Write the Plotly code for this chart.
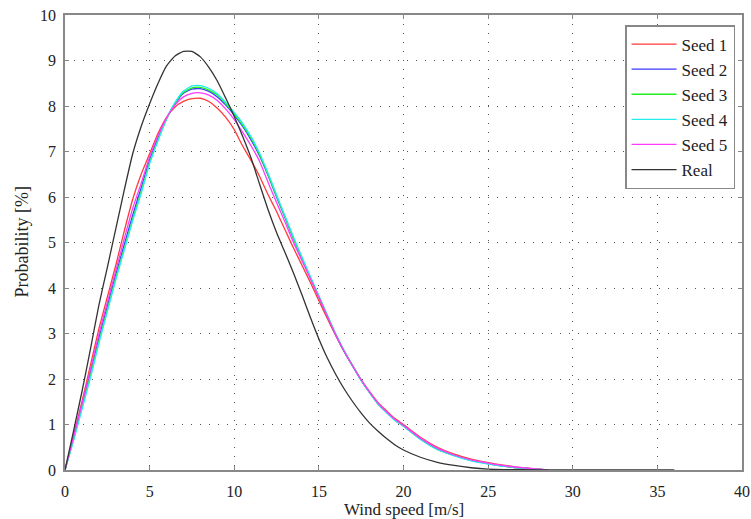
import plotly.graph_objects as go

# wind speed sample points [m/s]
seed_x = [0, 0.5, 1, 1.5, 2, 2.5, 3, 3.5, 4, 4.5, 5, 5.5, 6, 6.5, 7, 7.5, 8, 8.5, 9, 9.5,
          10, 10.5, 11, 11.5, 12, 12.5, 13, 13.5, 14, 14.5, 15, 15.5, 16, 16.5, 17, 17.5,
          18, 18.5, 19, 19.5, 20, 21, 22, 23, 24, 25, 26, 27, 28, 28.5]

seed1 = [0, 0.75, 1.5, 2.3, 3.1, 3.8, 4.5, 5.25, 5.95, 6.5, 6.95, 7.4, 7.75, 7.98, 8.1, 8.16, 8.17, 8.1, 7.95, 7.75,
         7.48, 7.12, 6.8, 6.45, 6.05, 5.68, 5.28, 4.88, 4.5, 4.12, 3.72, 3.33, 2.95, 2.6, 2.28, 1.98,
         1.72, 1.48, 1.3, 1.13, 1.0, 0.72, 0.5, 0.35, 0.24, 0.16, 0.1, 0.05, 0.02, 0]
seed2 = [0, 0.7, 1.42, 2.15, 2.9, 3.6, 4.3, 4.95, 5.6, 6.2, 6.82, 7.3, 7.72, 8.05, 8.28, 8.37, 8.38, 8.32, 8.2, 8.02,
         7.8, 7.55, 7.25, 6.9, 6.47, 6.0, 5.55, 5.08, 4.65, 4.22, 3.8, 3.38, 2.97, 2.6, 2.28, 1.97,
         1.7, 1.45, 1.27, 1.1, 0.97, 0.68, 0.46, 0.32, 0.21, 0.14, 0.08, 0.04, 0.015, 0]
seed3 = [0, 0.66, 1.36, 2.07, 2.82, 3.52, 4.22, 4.87, 5.52, 6.12, 6.76, 7.26, 7.71, 8.06, 8.3, 8.4, 8.41, 8.35, 8.24, 8.05,
         7.83, 7.58, 7.29, 6.93, 6.49, 6.02, 5.56, 5.09, 4.66, 4.23, 3.81, 3.39, 2.98, 2.61, 2.29, 1.97,
         1.7, 1.45, 1.27, 1.1, 0.97, 0.68, 0.45, 0.32, 0.21, 0.14, 0.08, 0.04, 0.015, 0]
seed4 = [0, 0.64, 1.33, 2.02, 2.78, 3.48, 4.18, 4.83, 5.48, 6.08, 6.73, 7.24, 7.72, 8.08, 8.33, 8.44, 8.45, 8.39, 8.27, 8.08,
         7.86, 7.62, 7.32, 6.96, 6.52, 6.05, 5.58, 5.12, 4.68, 4.25, 3.83, 3.4, 2.99, 2.62, 2.29, 1.97,
         1.7, 1.45, 1.26, 1.09, 0.96, 0.67, 0.45, 0.31, 0.2, 0.13, 0.08, 0.04, 0.015, 0]
seed5 = [0, 0.72, 1.45, 2.2, 2.98, 3.68, 4.38, 5.08, 5.75, 6.3, 6.88, 7.35, 7.74, 8.02, 8.2, 8.28, 8.29, 8.24, 8.12, 7.93,
         7.7, 7.42, 7.12, 6.78, 6.32, 5.88, 5.45, 5.0, 4.6, 4.2, 3.8, 3.38, 2.97, 2.61, 2.29, 1.98,
         1.71, 1.47, 1.28, 1.11, 0.98, 0.7, 0.48, 0.33, 0.22, 0.15, 0.09, 0.05, 0.02, 0]

real_x = [0, 0.5, 1, 1.5, 2, 2.5, 3, 3.5, 4, 4.5, 5, 5.5, 6, 6.5, 7, 7.5, 8, 8.5, 9, 9.5,
          10, 10.5, 11, 11.5, 12, 12.5, 13, 13.5, 14, 14.5, 15, 15.5, 16, 16.5, 17, 17.5,
          18, 18.5, 19, 19.5, 20, 21, 22, 23, 24, 25, 26, 28, 30, 36]
real = [0, 0.85, 1.72, 2.65, 3.62, 4.45, 5.3, 6.15, 6.95, 7.55, 8.05, 8.5, 8.88, 9.1, 9.2, 9.2, 9.08, 8.85, 8.55, 8.17,
        7.77, 7.33, 6.85, 6.28, 5.72, 5.22, 4.78, 4.33, 3.85, 3.35, 2.88, 2.46, 2.1, 1.78, 1.5, 1.25,
        1.03, 0.85, 0.69, 0.55, 0.44, 0.28, 0.17, 0.1, 0.05, 0.02, 0.01, 0.003, 0.001, 0]

series = [("Seed 1", seed1, "#ff3a3a"), ("Seed 2", seed2, "#3a3aff"), ("Seed 3", seed3, "#22ee22"),
          ("Seed 4", seed4, "#22eeee"), ("Seed 5", seed5, "#ff3aff")]

fig = go.Figure()
for name, vals, col in series:
    fig.add_trace(go.Scatter(x=seed_x, y=vals, mode="lines", name=name,
                             line=dict(color=col, width=1.3, shape="spline", smoothing=0.5)))
fig.add_trace(go.Scatter(x=real_x, y=real, mode="lines", name="Real",
                         line=dict(color="#333333", width=1.3, shape="spline", smoothing=0.5)))

grid = dict(showgrid=True, gridcolor="#555555", griddash="1px,8px", gridwidth=1.3,
            showline=True, linecolor="#888888", linewidth=1.5, mirror="ticks",
            ticks="inside", ticklen=4, tickcolor="#888888", zeroline=False, automargin=False,
            ticklabeloverflow="allow", tickfont=dict(size=16))

fig.update_layout(
    width=751, height=519,
    margin=dict(l=65, r=9, t=15, b=49),
    paper_bgcolor="white", plot_bgcolor="white",
    font=dict(family="Liberation Serif", size=16, color="#222222"),
    xaxis=dict(range=[0, 40], dtick=5, ticklabelstandoff=6, **grid),
    yaxis=dict(range=[0, 10], dtick=1, ticklabelstandoff=4, **grid),
    legend=dict(x=0.9897, y=0.978, xanchor="right", yanchor="top", bgcolor="white",
                bordercolor="#888888", borderwidth=1.5, font=dict(size=17),
                tracegroupgap=0, itemwidth=45),
    showlegend=True,
    annotations=[
        dict(text="Wind speed [m/s]", x=0.5, y=0, xref="paper", yref="paper",
             xanchor="center", yanchor="top", yshift=-28, showarrow=False, font=dict(size=17)),
        dict(text="Probability [%]", x=0, y=0.5, xref="paper", yref="paper", textangle=-90,
             xanchor="center", yanchor="middle", xshift=-44, showarrow=False, font=dict(size=18)),
    ],
)

# drop the default page margin so the figure fills the window exactly
fig.write_html("out.html", config={"displayModeBar": False},
               post_script="document.body.style.margin='0';document.body.style.overflow='hidden';")
